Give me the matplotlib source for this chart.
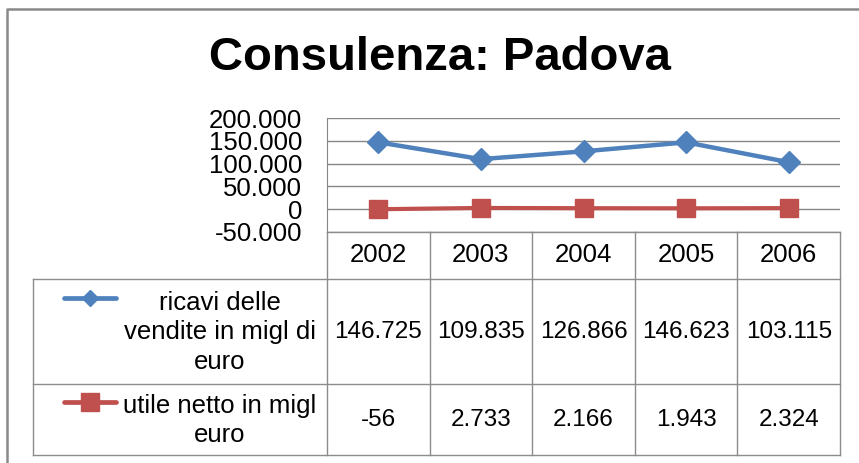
import matplotlib.pyplot as plt
from matplotlib.ticker import FuncFormatter

anni = ['2002', '2003', '2004', '2005', '2006']
ricavi = [146725, 109835, 126866, 146623, 103115]
utile = [-56, 2733, 2166, 1943, 2324]
nome_ricavi = 'ricavi delle\nvendite in migl di\neuro'
nome_utile = 'utile netto in migl\neuro'
titolo = 'Consulenza: Padova'

blu = '#4F81BD'
rosso = '#C0504D'
grigio = '#8C8C8C'

plt.rcParams['font.family'] = ['Liberation Sans', 'DejaVu Sans']

W, H = 859, 463
fig = plt.figure(figsize=(W / 100, H / 100), dpi=100)

# layer in pixel coordinates for frame, title and data table
bg = fig.add_axes([0, 0, 1, 1])
bg.set_xlim(0, W)
bg.set_ylim(H, 0)
bg.axis('off')

x0, x1 = 327, 840          # plot / table columns
y_top, y_bot = 118, 232    # plot area
y_r1, y_r2, y_end = 279, 384, 455
t_left = 33

ax = fig.add_axes([x0 / W, 1 - y_bot / H, (x1 - x0) / W, (y_bot - y_top) / H])
xs = range(len(anni))
ax.plot(xs, ricavi, color=blu, lw=3.2, marker='D', ms=11, mec=blu, zorder=3)
ax.plot(xs, utile, color=rosso, lw=3.0, marker='s', ms=12.5, mec=rosso, zorder=3)
ax.set_xlim(-0.5, len(anni) - 0.5)
ax.set_ylim(-50000, 200000)
ax.set_yticks(range(-50000, 200001, 50000))
ax.yaxis.set_major_formatter(FuncFormatter(lambda v, p: f'{int(v):,}'.replace(',', '.')))
ax.tick_params(axis='y', length=0, pad=18, labelsize=18.5)
ax.set_xticks([])
ax.grid(axis='y', color='#868686', lw=1)
for s in ['top', 'right', 'bottom']:
    ax.spines[s].set_visible(False)
ax.spines['left'].set_color('#868686')
ax.patch.set_alpha(0)

# outer chart frame
bg.plot([7, 7, W], [H, 9, 9], color='#898989', lw=1.8)

bg.text(440, 58, titolo, ha='center', va='center', fontsize=34, fontweight='bold')

# data table
cw = (x1 - x0) / len(anni)
lk = dict(color=grigio, lw=1)
bg.plot([x0, x1], [y_bot, y_bot], **lk)
for yy in (y_r1, y_r2, y_end):
    bg.plot([t_left, x1], [yy, yy], **lk)
bg.plot([t_left, t_left], [y_r1, y_end], **lk)
for i in range(len(anni) + 1):
    xx = x0 + i * cw
    bg.plot([xx, xx], [y_bot, y_end], **lk)

for i, a in enumerate(anni):
    cx = x0 + (i + 0.5) * cw
    bg.text(cx, (y_bot + y_r1) / 2, a, ha='center', va='center', fontsize=18.5)
    bg.text(cx, (y_r1 + y_r2) / 2, f'{ricavi[i]:,}'.replace(',', '.'),
            ha='center', va='center', fontsize=17.5)
    bg.text(cx, (y_r2 + y_end) / 2, f'{utile[i]:,}'.replace(',', '.'),
            ha='center', va='center', fontsize=17.5)

bg.text(220, (y_r1 + y_r2) / 2 + 1, nome_ricavi, ha='center', va='center',
        fontsize=18.5, linespacing=1.3)
bg.text(220, (y_r2 + y_end) / 2 + 1, nome_utile, ha='center', va='center',
        fontsize=18.5, linespacing=1.3)
bg.plot([64, 90, 116], [298, 298, 298], color=blu, lw=3.4, solid_capstyle='round',
        marker='D', ms=8.5, mec=blu, markevery=[1])
bg.plot([64, 90, 116], [402, 402, 402], color=rosso, lw=3.4, solid_capstyle='round',
        marker='s', ms=13, mec=rosso, markevery=[1])

fig.savefig('out.png', dpi=100)
